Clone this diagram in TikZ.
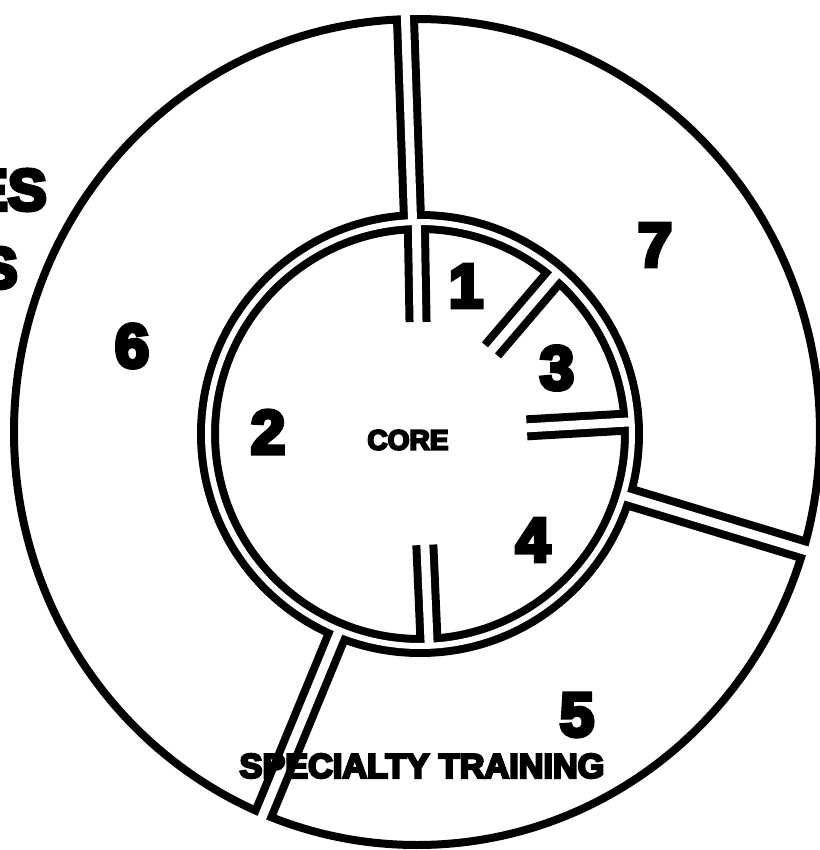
\documentclass[tikz,border=0pt]{standalone}
\usepackage{fontspec}
\newfontfamily\heavyfont[FakeBold=7, BoldFeatures={FakeBold=7}]{Liberation Sans}
\usetikzlibrary{calc}

\begin{document}
\begin{tikzpicture}[x=0.02cm, y=0.02cm,
  rim/.style={line width=0.16cm, black},
  bandink/.style={line width=0.44cm, black},
  bandgap/.style={line width=0.12cm, white},
  cutink/.style={line width=0.5cm, black},
  cutgap/.style={line width=0.18cm, white},
  num/.style={font=\heavyfont\bfseries\fontsize{35}{35}\selectfont, inner sep=0pt},
  tag/.style={font=\heavyfont\bfseries\fontsize{16}{16}\selectfont, inner sep=0pt}]

  \clip (-420,-416) rectangle (400,434);
  \fill[white] (-420,-416) rectangle (400,434);

  % outer rim of the ring
  \draw[rim] (-3,2) ellipse (403 and 413);

  % ink first: band between ring and core, sector cuts
  \draw[bandink] (0,0) circle (212);
  \draw[cutink] (92:212) -- (92:415);
  \draw[cutink] (-16.8:212) -- (-16.8:400);
  \draw[cutink] (-112.4:212) -- (-112.4:411);
  \draw[cutink] (91:212) -- (91:112);
  \draw[cutink] (49.5:212) -- (49.5:110);
  \draw[cutink] (3.3:212) -- (3.3:107);
  \draw[cutink] (-87.5:212) -- (-87.5:111);

  % then the white gaps
  \draw[bandgap] (0,0) circle (212);
  \draw[cutgap] (92:212) -- (92:440);
  \draw[cutgap] (-16.8:212) -- (-16.8:430);
  \draw[cutgap] (-112.4:212) -- (-112.4:440);
  \draw[cutgap] (91:212) -- (91:104);
  \draw[cutgap] (49.5:212) -- (49.5:102);
  \draw[cutgap] (3.3:212) -- (3.3:99);
  \draw[cutgap] (-87.5:212) -- (-87.5:103);

  % labels
  \node[num] (s1) at (46,148) {1};
  \node[num] (s2) at (-152,2) {2};
  \node[num] (s3) at (137,66) {3};
  \node[num] (s4) at (113,-106) {4};
  \node[num] (s5) at (157,-281) {5};
  \node[num] (s6) at (-288,88) {6};
  \node[num] (s7) at (235,189) {7};
  \node[tag] (core) at (-12,-6) {CORE};
  \node[tag, font=\heavyfont\bfseries\fontsize{19.5}{19.5}\selectfont] (spec) at (2,-332) {SPECIALTY TRAINING};
  \node[num, font=\heavyfont\bfseries\fontsize{33}{33}\selectfont, anchor=east] (cutA) at (-373,244) {ES};
  \node[num, font=\heavyfont\bfseries\fontsize{33}{33}\selectfont, anchor=east] (cutB) at (-402,166) {S};
\end{tikzpicture}
\end{document}
